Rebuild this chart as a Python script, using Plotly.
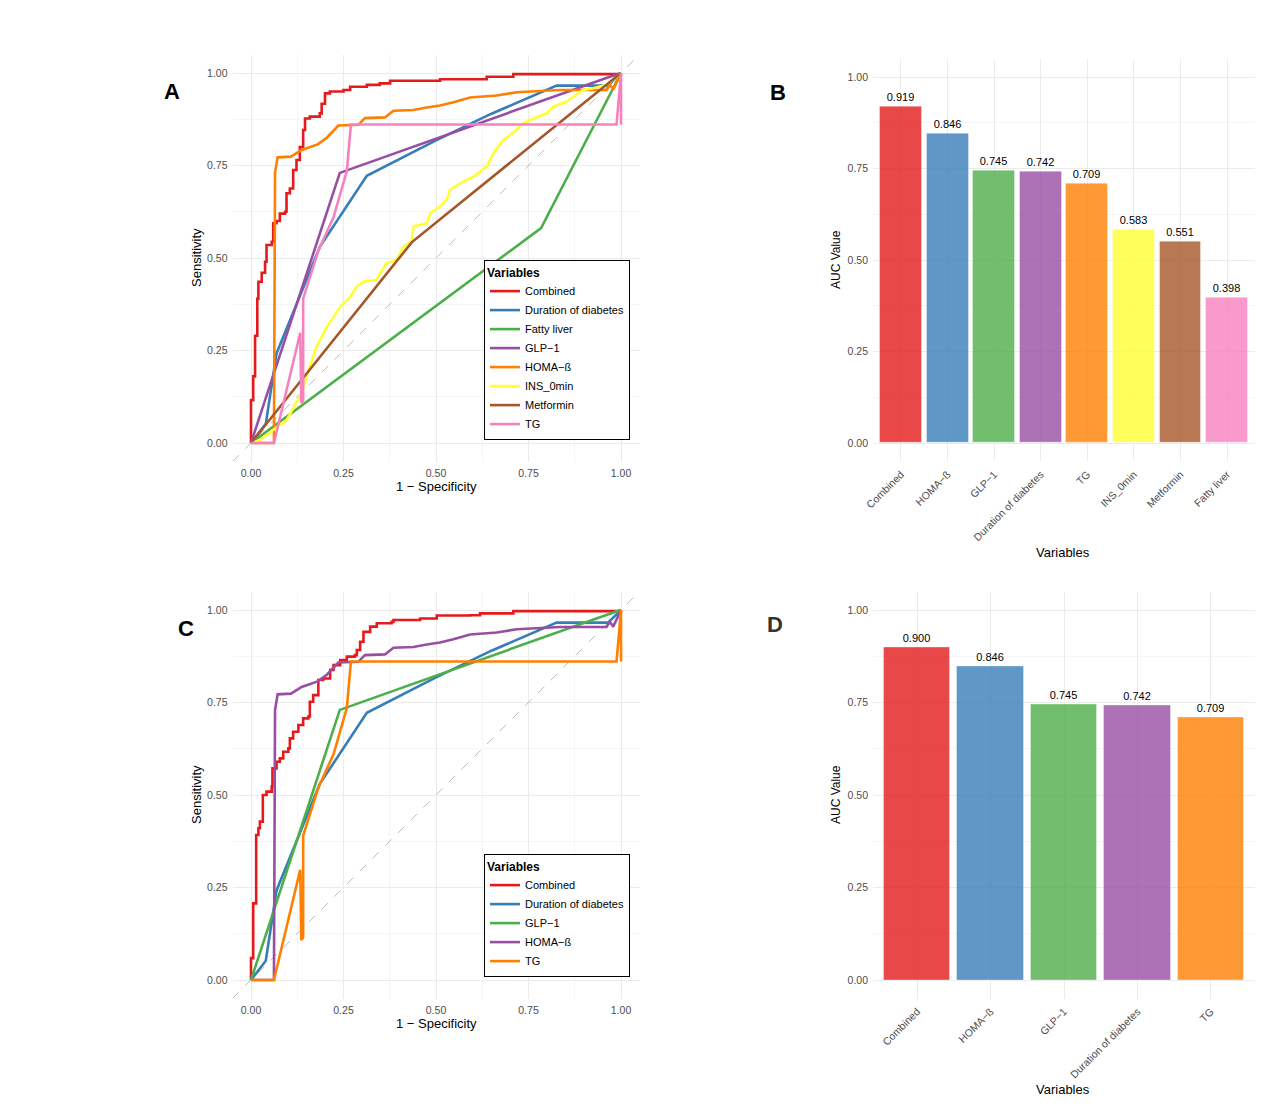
import plotly.graph_objects as go

W, H = 1267, 1109
FONT = "Liberation Sans, Arial, sans-serif"

# ---------------- ROC data (1 - specificity, sensitivity) ----------------
combined_a_fpr = [0, 0, 0.006, 0.006, 0.011, 0.017, 0.020, 0.029, 0.038, 0.042, 0.056, 0.060, 0.069, 0.078,
                  0.092, 0.096, 0.105, 0.114, 0.123, 0.132, 0.141, 0.146, 0.159, 0.186, 0.191, 0.200, 0.213,
                  0.250, 0.268, 0.313, 0.348, 0.376, 0.511, 0.637, 0.709, 1.0]
combined_a_tpr = [0, 0.116, 0.12, 0.18, 0.29, 0.39, 0.436, 0.46, 0.49, 0.535, 0.544, 0.594, 0.60, 0.62,
                  0.625, 0.675, 0.688, 0.738, 0.765, 0.80, 0.846, 0.877, 0.882, 0.891, 0.917, 0.945, 0.95,
                  0.954, 0.963, 0.968, 0.972, 0.979, 0.983, 0.99, 0.997, 1.0]

combined_c_fpr = [0, 0, 0.006, 0.006, 0.014, 0.014, 0.020, 0.024, 0.032, 0.042, 0.056, 0.058, 0.069, 0.078,
                  0.087, 0.101, 0.105, 0.114, 0.128, 0.141, 0.155, 0.159, 0.168, 0.182, 0.195, 0.214, 0.223,
                  0.241, 0.259, 0.281, 0.286, 0.295, 0.304, 0.322, 0.340, 0.380, 0.385, 0.457, 0.502, 0.592,
                  0.619, 0.709, 1.0]
combined_c_tpr = [0, 0.059, 0.068, 0.207, 0.212, 0.392, 0.410, 0.428, 0.50, 0.509, 0.523, 0.572, 0.59, 0.599,
                  0.617, 0.626, 0.653, 0.671, 0.689, 0.707, 0.712, 0.752, 0.770, 0.811, 0.815, 0.838, 0.851,
                  0.865, 0.874, 0.878, 0.892, 0.914, 0.941, 0.955, 0.964, 0.968, 0.973, 0.977, 0.985, 0.986,
                  0.991, 0.997, 1.0]

duration_fpr = [0, 0.04, 0.069, 0.125, 0.186, 0.313, 0.50, 0.65, 0.826, 0.965, 1.0]
duration_tpr = [0, 0.052, 0.242, 0.382, 0.53, 0.722, 0.818, 0.89, 0.966, 0.966, 1.0]

fatty_fpr = [0, 0.784, 1.0]
fatty_tpr = [0, 0.581, 1.0]

glp1_fpr = [0, 0.24, 0.97, 1.0]
glp1_tpr = [0, 0.73, 0.99, 1.0]

homa_fpr = [0, 0.062, 0.065, 0.072, 0.108, 0.137, 0.18, 0.205, 0.236, 0.29, 0.308, 0.362, 0.385, 0.439,
            0.475, 0.511, 0.547, 0.592, 0.664, 0.718, 0.835, 0.961, 0.970, 0.979, 1.0]
homa_tpr = [0, 0, 0.73, 0.772, 0.774, 0.792, 0.807, 0.825, 0.858, 0.86, 0.878, 0.88, 0.898, 0.9,
            0.907, 0.912, 0.921, 0.934, 0.939, 0.948, 0.954, 0.954, 0.968, 0.955, 1.0]

ins_fpr = [0, 0.024, 0.060, 0.096, 0.137, 0.150, 0.177, 0.205, 0.241, 0.268, 0.286, 0.304, 0.340, 0.349,
           0.367, 0.394, 0.412, 0.434, 0.439, 0.475, 0.484, 0.511, 0.529, 0.538, 0.565, 0.601, 0.637,
           0.646, 0.655, 0.682, 0.718, 0.727, 0.754, 0.799, 0.817, 0.853, 0.871, 0.898, 0.925, 0.961,
           0.979, 1.0]
ins_tpr = [0, 0.008, 0.035, 0.062, 0.134, 0.179, 0.260, 0.314, 0.368, 0.395, 0.423, 0.436, 0.441, 0.459,
           0.486, 0.495, 0.531, 0.544, 0.585, 0.594, 0.621, 0.639, 0.657, 0.684, 0.702, 0.720, 0.747,
           0.765, 0.783, 0.819, 0.846, 0.859, 0.873, 0.891, 0.909, 0.923, 0.936, 0.954, 0.959, 0.968,
           0.981, 1.0]

metformin_fpr = [0, 0.435, 1.0]
metformin_tpr = [0, 0.543, 1.0]

tg_fpr = [0, 0.062, 0.133, 0.136, 0.141, 0.141, 0.182, 0.223, 0.259, 0.27, 0.988, 1.0, 1.0]
tg_tpr = [0, 0, 0.298, 0.108, 0.115, 0.39, 0.52, 0.61, 0.735, 0.861, 0.861, 1.0, 0.861]

# ---------------- AUC bar data ----------------
auc_b_labels = ["Combined", "HOMA−ß", "GLP−1", "Duration of diabetes", "TG", "INS_0min", "Metformin", "Fatty liver"]
auc_b_values = [0.919, 0.846, 0.745, 0.742, 0.709, 0.583, 0.551, 0.398]
auc_d_labels = ["Combined", "HOMA−ß", "GLP−1", "Duration of diabetes", "TG"]
auc_d_values = [0.900, 0.846, 0.745, 0.742, 0.709]

roc_ticks = [0, 0.25, 0.5, 0.75, 1.0]

SET1 = ["#E41A1C", "#377EB8", "#4DAF4A", "#984EA3", "#FF7F00", "#FFFF33", "#A65628", "#F781BF"]


def rgba(hexc, a):
    hexc = hexc.lstrip("#")
    r, g, b = int(hexc[0:2], 16), int(hexc[2:4], 16), int(hexc[4:6], 16)
    return f"rgba({r},{g},{b},{a})"


def px(x):
    return x / W


def py(y):
    return 1 - y / H


fig = go.Figure()

STEPPED = {"Combined"}

panel_a = [
    ("Combined", combined_a_fpr, combined_a_tpr, SET1[0]),
    ("Duration of diabetes", duration_fpr, duration_tpr, SET1[1]),
    ("Fatty liver", fatty_fpr, fatty_tpr, SET1[2]),
    ("GLP−1", glp1_fpr, glp1_tpr, SET1[3]),
    ("HOMA−ß", homa_fpr, homa_tpr, SET1[4]),
    ("INS_0min", ins_fpr, ins_tpr, SET1[5]),
    ("Metformin", metformin_fpr, metformin_tpr, SET1[6]),
    ("TG", tg_fpr, tg_tpr, SET1[7]),
]
for name, xs, ys, col in panel_a:
    fig.add_trace(go.Scatter(x=xs, y=ys, mode="lines", name=name,
                             line=dict(color=col, width=2.6, shape=("hv" if name in STEPPED else "linear")),
                             xaxis="x", yaxis="y", legend="legend"))

panel_c = [
    ("Combined", combined_c_fpr, combined_c_tpr, SET1[0]),
    ("Duration of diabetes", duration_fpr, duration_tpr, SET1[1]),
    ("GLP−1", glp1_fpr, glp1_tpr, SET1[2]),
    ("HOMA−ß", homa_fpr, homa_tpr, SET1[3]),
    ("TG", tg_fpr, tg_tpr, SET1[4]),
]
for name, xs, ys, col in panel_c:
    fig.add_trace(go.Scatter(x=xs, y=ys, mode="lines", name=name,
                             line=dict(color=col, width=2.6, shape=("hv" if name in STEPPED else "linear")),
                             xaxis="x3", yaxis="y3", legend="legend2"))

fig.add_trace(go.Bar(x=auc_b_labels, y=auc_b_values, width=0.9,
                     marker=dict(color=[rgba(c, 0.8) for c in SET1[:len(auc_b_values)]],
                                 line=dict(color="rgba(255,255,255,0.35)", width=1)),
                     text=[f"{v:.3f}" for v in auc_b_values], textposition="outside",
                     textfont=dict(size=11, color="black", family=FONT), cliponaxis=False,
                     showlegend=False, xaxis="x2", yaxis="y2"))
fig.add_trace(go.Bar(x=auc_d_labels, y=auc_d_values, width=0.9,
                     marker=dict(color=[rgba(c, 0.8) for c in SET1[:len(auc_d_values)]],
                                 line=dict(color="rgba(255,255,255,0.35)", width=1)),
                     text=[f"{v:.3f}" for v in auc_d_values], textposition="outside",
                     textfont=dict(size=11, color="black", family=FONT), cliponaxis=False,
                     showlegend=False, xaxis="x4", yaxis="y4"))

GRID = "#EBEBEB"
MINOR = "#F5F5F5"
TICKFONT = dict(size=10.5, color="#4D4D4D", family=FONT)


def roc_axis(domain, anchor):
    return dict(domain=domain, anchor=anchor, range=[-0.05, 1.05], tickvals=roc_ticks, tickformat=".2f",
                showgrid=True, gridcolor=GRID, gridwidth=1, zeroline=False, showline=False, ticks="",
                tickfont=TICKFONT, minor=dict(dtick=0.125, tick0=0, showgrid=True, gridcolor=MINOR, gridwidth=1),
                fixedrange=True, automargin=False, ticklabelstandoff=4)


def bar_x(domain, anchor, n):
    return dict(domain=domain, anchor=anchor, range=[-0.6, n - 0.4], showgrid=True, gridcolor=GRID,
                gridwidth=1, zeroline=False, showline=False, ticks="", tickangle=-45,
                tickfont=TICKFONT, fixedrange=True, type="category", automargin=False, ticklabelstandoff=4)


dom_a_x = [px(232.5), px(639.5)]
dom_a_y = [py(461.5), py(54.5)]
dom_c_y = [py(998.5), py(591.5)]
dom_b_x = [px(873), px(1255)]
dom_b_y = [py(461.3), py(58.7)]
dom_d_y = [py(998.5), py(591.5)]

legend_common = dict(xanchor="left", yanchor="top", bordercolor="black", borderwidth=1, bgcolor="white",
                     font=dict(size=11, color="black", family=FONT),
                     title=dict(text="<b>Variables</b>", font=dict(size=12, color="black", family=FONT)),
                     itemwidth=30, tracegroupgap=0)

fig.update_layout(
    width=W, height=H, margin=dict(l=0, r=0, t=0, b=0, autoexpand=False),
    paper_bgcolor="white", plot_bgcolor="white",
    font=dict(family=FONT, color="black"),
    bargap=0,
    xaxis=roc_axis(dom_a_x, "y"), yaxis=roc_axis(dom_a_y, "x"),
    xaxis2=bar_x(dom_b_x, "y2", len(auc_b_labels)), yaxis2=roc_axis(dom_b_y, "x2"),
    xaxis3=roc_axis(dom_a_x, "y3"), yaxis3=roc_axis(dom_c_y, "x3"),
    xaxis4=bar_x(dom_b_x, "y4", len(auc_d_labels)), yaxis4=roc_axis(dom_d_y, "x4"),
    legend=dict(x=px(484), y=py(260), **legend_common),
    legend2=dict(x=px(484), y=py(854), **legend_common),
)

# diagonal reference lines
for xr, yr in (("x", "y"), ("x3", "y3")):
    fig.add_shape(type="line", xref=xr, yref=yr, x0=-0.05, y0=-0.05, x1=1.05, y1=1.05,
                  line=dict(color="#BEBEBE", width=1, dash="dash"), layer="between")

ann = []


def text(x, y, s, size=13, bold=False, angle=0, color="black"):
    ann.append(dict(x=px(x), y=py(y), xref="paper", yref="paper", text=(f"<b>{s}</b>" if bold else s),
                    showarrow=False, textangle=angle, xanchor="center", yanchor="middle",
                    font=dict(size=size, color=color, family=FONT)))


# panel letters
text(172, 91, "A", size=22, bold=True)
text(778, 93, "B", size=22, bold=True)
text(186, 628, "C", size=22, bold=True)
text(775, 624, "D", size=22, bold=True, color="#333333")

# axis titles
text(196, 258, "Sensitivity", angle=-90)
text(436, 486, "1 − Specificity")
text(196, 795, "Sensitivity", angle=-90)
text(436, 1023, "1 − Specificity")
text(836, 260, "AUC Value", size=12, angle=-90)
text(1063, 552, "Variables")
text(836, 795, "AUC Value", size=12, angle=-90)
text(1063, 1089, "Variables")

fig.update_layout(annotations=ann)

fig.write_html("out.html")
